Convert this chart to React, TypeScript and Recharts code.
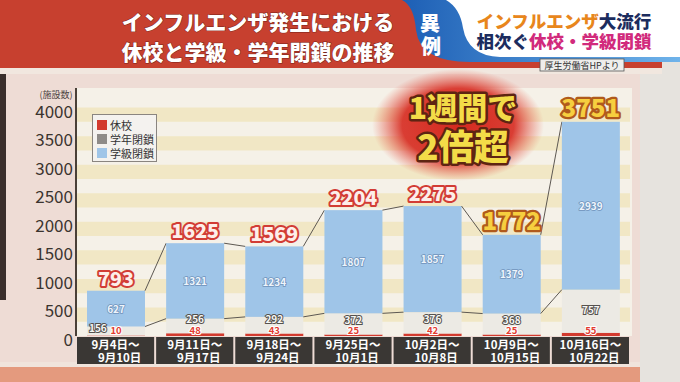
import React from "react"
import {
  BarChart,
  Bar,
  XAxis,
  YAxis,
  ReferenceArea,
  LabelList,
} from "recharts"

// data (厚生労働省HPより)
const weekStart = ["9月4日～", "9月11日～", "9月18日～", "9月25日～", "10月2日～", "10月9日～", "10月16日～"]
const weekEnd = ["9月10日", "9月17日", "9月24日", "10月1日", "10月8日", "10月15日", "10月22日"]
const kyuko = [10, 48, 43, 25, 42, 25, 55] // 休校
const gakunen = [156, 256, 292, 372, 376, 368, 757] // 学年閉鎖
const gakkyu = [627, 1321, 1234, 1807, 1857, 1379, 2939] // 学級閉鎖
const totals = [793, 1625, 1569, 2204, 2275, 1772, 3751]
const highlighted = [false, false, false, false, false, true, true]
const yTicks = [0, 500, 1000, 1500, 2000, 2500, 3000, 3500, 4000]

const data = weekStart.map((s, i) => ({
  name: s + "\n" + weekEnd[i],
  kyuko: kyuko[i],
  gakunen: gakunen[i],
  gakkyu: gakkyu[i],
  total: totals[i],
}))

const W = 680
const H = 382
const LEFT = 76
const RIGHT = 50
const TOP = 88
const BOTTOM = 46
const BAND = (W - LEFT - RIGHT) / data.length
const FONT = "'Noto Sans CJK JP', 'Noto Sans', sans-serif"

const RED = "#d23a2e"
const GRAY = "#eceae4"
const BLUE = "#9fc5e8"

// stripes every other 250 between ticks
const bands = yTicks.slice(0, -1).map((t) => [t + 250, t + 500])

const YTick = (props: any) => {
  const { y, payload } = props
  return (
    <text x={LEFT - 3} y={y + 10} textAnchor="end" fontSize={17} fontFamily={FONT} fontWeight={400} fill="#3b342f">
      {payload.value}
    </text>
  )
}

const XTick = (props: any) => {
  const { x, payload } = props
  const [l1, l2] = String(payload.value).split("\n")
  const w = BAND - 2
  return (
    <g>
      <rect x={x - w / 2} y={337} width={w} height={27} fill="#3a3734" />
      <text x={x} y={348.5} textAnchor="middle" fontSize={11.5} fontWeight={700} fontFamily={FONT} fill="#ffffff">
        {l1}
      </text>
      <text x={x + 4} y={361.5} textAnchor="middle" fontSize={11.5} fontWeight={700} fontFamily={FONT} fill="#ffffff">
        {l2}
      </text>
    </g>
  )
}

// top segment + the thin series lines to the next week
const TopShape = (props: any) => {
  const { x, y, width, height, index, payload } = props
  const ppu = height / payload.gakkyu
  const base = y + height + (payload.kyuko + payload.gakunen) * ppu
  const next = data[index + 1]
  return (
    <g>
      <rect x={x} y={y} width={width} height={height} fill={BLUE} />
      {next && (
        <g stroke="#5d5852" strokeWidth={1}>
          <line x1={x + width} y1={y} x2={x + BAND} y2={base - next.total * ppu} />
          <line x1={x + width} y1={y + height} x2={x + BAND} y2={base - (next.kyuko + next.gakunen) * ppu} />
        </g>
      )}
    </g>
  )
}

const KyukoLabel = (props: any) => {
  const { x, y, width, height, value } = props
  return (
    <text x={x + width / 2} y={y + height - 2} textAnchor="middle" fontSize={9.5} fontWeight={700} fontFamily={FONT}
      fill="#e23b30" stroke="#ffffff" strokeWidth={2} paintOrder="stroke">
      {value}
    </text>
  )
}

const GakunenLabel = (props: any) => {
  const { x, y, width, height, value } = props
  const small = height < 12
  const by = small ? y + height / 2 + 1 : Math.min(y + height / 2 + 3, y + height - 10.5)
  return (
    <text x={small ? x + 2 : x + width / 2} y={by}
      textAnchor={small ? "start" : "middle"} fontSize={10} fontWeight={700} fontFamily={FONT}
      fill="#f7f7f5" stroke="#55514d" strokeWidth={2} paintOrder="stroke">
      {value}
    </text>
  )
}

const GakkyuLabel = (props: any) => {
  const { x, y, width, height, value } = props
  return (
    <text x={x + width / 2} y={y + height / 2 + 4} textAnchor="middle" fontSize={10} fontWeight={700} fontFamily={FONT}
      fill="#eef5fc" stroke="#6f93bb" strokeWidth={1.5} paintOrder="stroke">
      {value}
    </text>
  )
}

const TotalLabel = (props: any) => {
  const { x, y, width, value, index } = props
  const hi = highlighted[index]
  return (
    <text x={x + width / 2} y={y - 5} textAnchor="middle" fontSize={hi ? 24 : 19.5} fontWeight={900} fontFamily={FONT}
      fill={hi ? "#f6cf3f" : "#fdeeea"} stroke={hi ? "#b05a1c" : "#d23c35"} strokeWidth={hi ? 4.5 : 4}
      strokeLinejoin="round" paintOrder="stroke">
      {value}
    </text>
  )
}

const legendItems = [
  { label: "休校", color: RED },
  { label: "学年閉鎖", color: "#8e8b88" },
  { label: "学級閉鎖", color: BLUE },
]

export default function App() {
  return (
    <div style={{ position: "absolute", left: 0, top: 0, width: W, height: H, overflow: "hidden", fontFamily: FONT }}>
      <svg width={W} height={H} style={{ position: "absolute", left: 0, top: 0 }}>
        <defs>
          <linearGradient id="swoosh" x1="0" y1="0" x2="1" y2="0">
            <stop offset="0%" stopColor="#1d5fb5" />
            <stop offset="100%" stopColor="#6fb3ea" />
          </linearGradient>
        </defs>
        {/* board */}
        <rect x={0} y={0} width={W} height={H} fill="#eedcd5" />
        <rect x={640} y={60} width={40} height={H} fill="#e6e3de" />
        <rect x={0} y={362} width={640} height={6} fill="#f0e4dc" />
        <rect x={0} y={367} width={640} height={15} fill="#e49a7e" />
        <rect x={0} y={70} width={6} height={230} fill="#3a2f2c" />
        <rect x={LEFT} y={TOP} width={W - LEFT - RIGHT + 2} height={H - TOP - BOTTOM} fill="#f5f1e8" />
        {/* header */}
        <rect x={0} y={0} width={662} height={70} fill="#c7402f" />
        <rect x={0} y={68} width={662} height={6} fill="#f1e7df" />
        <path d="M402,0 Q414,6 416,30 Q420,62 470,62 L680,62 L680,0 Z" fill="url(#swoosh)" />
        <path d="M446,0 Q460,8 463,28 Q468,56 500,57 L680,57 L680,0 Z" fill="#ffffff" />
        <text x={430} y={31} textAnchor="middle" fontSize={20} fontWeight={900} fill="#ffffff">異</text>
        <text x={431} y={54} textAnchor="middle" fontSize={20} fontWeight={900} fill="#ffffff">例</text>
        <g fontSize={21} fontWeight={900} fill="#ffffff" textAnchor="middle" stroke="#7a231a" strokeWidth={1} paintOrder="stroke">
          <text x={258} y={30}>インフルエンザ発生における</text>
          <text x={258} y={60}>休校と学級・学年閉鎖の推移</text>
        </g>
        <g fontSize={17.5} fontWeight={900} textAnchor="middle">
          <text x={564} y={28}>
            <tspan fill="#e8861c">インフルエンザ</tspan>
            <tspan fill="#1c2c5e">大流行</tspan>
          </text>
          <text x={564} y={48}>
            <tspan fill="#1c2c5e">相次ぐ</tspan>
            <tspan fill="#d12a7c">休校・学級閉鎖</tspan>
          </text>
        </g>
        <rect x={540} y={59} width={84} height={12} fill="#eeeeec" stroke="#555" strokeWidth={0.8} />
        <text x={582} y={68.5} textAnchor="middle" fontSize={9} fill="#333">厚生労働省HPより</text>
        <text x={56} y={97.5} textAnchor="middle" fontSize={9} fill="#4a423d">(施設数)</text>
      </svg>

      <div style={{ position: "absolute", left: 0, top: 0 }}>
        <BarChart width={W} height={H} data={data} margin={{ top: TOP, right: RIGHT, bottom: BOTTOM - 30, left: 0 }} barSize={58}>
          {bands.map(([a, b]) => (
            <ReferenceArea key={a} y1={a} y2={b} fill="#f1e7c5" fillOpacity={1} stroke="none" ifOverflow="visible" />
          ))}
          <XAxis dataKey="name" height={30} axisLine={false} tickLine={false} tick={<XTick />} interval={0} />
          <YAxis width={LEFT} domain={[0, 4343]} ticks={yTicks} allowDataOverflow tickLine={false}
            axisLine={{ stroke: "#4a4038", strokeWidth: 2 }} tick={<YTick />} />
          <Bar dataKey="kyuko" stackId="a" fill={RED} isAnimationActive={false}>
            <LabelList dataKey="kyuko" content={<KyukoLabel />} />
          </Bar>
          <Bar dataKey="gakunen" stackId="a" fill={GRAY} isAnimationActive={false}>
            <LabelList dataKey="gakunen" content={<GakunenLabel />} />
          </Bar>
          <Bar dataKey="gakkyu" stackId="a" fill={BLUE} shape={<TopShape />} isAnimationActive={false}>
            <LabelList dataKey="gakkyu" content={<GakkyuLabel />} />
            <LabelList dataKey="total" content={<TotalLabel />} />
          </Bar>
        </BarChart>
      </div>

      <div style={{ position: "absolute", left: 92, top: 114, width: 65, height: 48, background: "#f4f2ef",
        border: "1px solid #8a8580", boxSizing: "border-box", padding: "3px 0 0 4px" }}>
        {legendItems.map((it) => (
          <div key={it.label} style={{ display: "flex", alignItems: "center", height: 14, fontSize: 11, color: "#333" }}>
            <span style={{ width: 10, height: 10, background: it.color, marginRight: 3, display: "inline-block" }} />
            {it.label}
          </div>
        ))}
      </div>

      <svg width={W} height={H} style={{ position: "absolute", left: 0, top: 0, pointerEvents: "none" }}>
        <defs>
          <radialGradient id="glow" cx="50%" cy="50%" r="50%">
            <stop offset="0%" stopColor="#d42a1f" stopOpacity={1} />
            <stop offset="65%" stopColor="#d8342a" stopOpacity={0.95} />
            <stop offset="100%" stopColor="#e8604f" stopOpacity={0} />
          </radialGradient>
        </defs>
        <ellipse cx={458} cy={125} rx={86} ry={56} fill="url(#glow)" />
        <g fontFamily={FONT} fontWeight={900} fill="#f3dc48" stroke="#5e2412" strokeWidth={5} strokeLinejoin="round"
          paintOrder="stroke" textAnchor="middle">
          <text x={463} y={119} fontSize={30}>1週間で</text>
          <text x={463} y={160} fontSize={35}>2倍超</text>
        </g>
      </svg>
    </div>
  )
}
